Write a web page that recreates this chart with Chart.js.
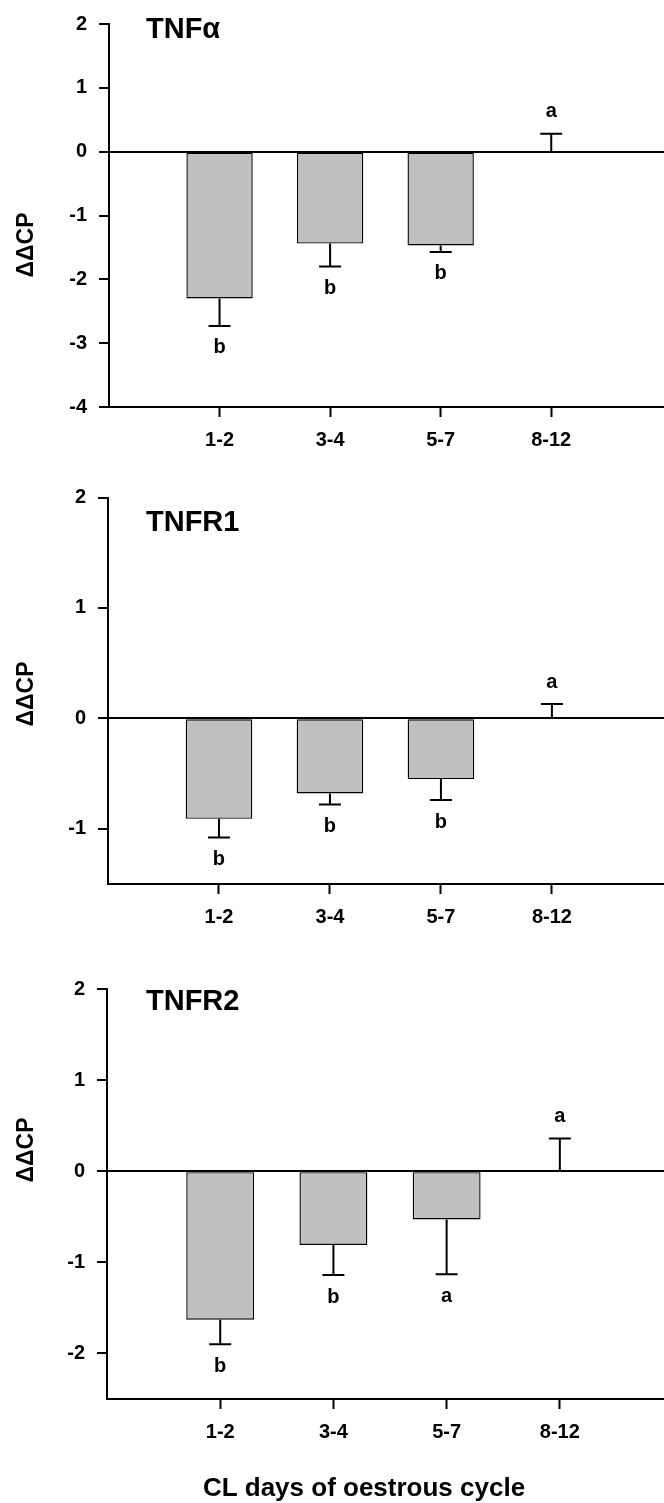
<!DOCTYPE html>
<html>
<head>
<meta charset="utf-8">
<script src="https://cdn.jsdelivr.net/npm/chart.js@4.4.1/dist/chart.umd.min.js"></script>
<style>
  body { margin: 0; background: #fff; width: 664px; height: 1503px; overflow: hidden; position: relative; }
  canvas { position: absolute; left: 0; }
</style>
</head>
<body>
<canvas id="c1" width="664" height="470" style="top:0px"></canvas>
<canvas id="c2" width="664" height="480" style="top:470px"></canvas>
<canvas id="c3" width="664" height="553" style="top:950px"></canvas>
<script>
// CL days of oestrous cycle
const days = ['1-2', '3-4', '5-7', '8-12'];

// TNFa
const tnfaMean = [-2.30, -1.44, -1.47, 0];
const tnfaSem = [0.43, 0.36, 0.10, 0.28];
const tnfaLetters = ['b', 'b', 'b', 'a'];
const tnfaTicks = [-4, -3, -2, -1, 0, 1, 2];

// TNFR1
const tnfr1Mean = [-0.91, -0.68, -0.55, 0];
const tnfr1Sem = [0.17, 0.10, 0.19, 0.13];
const tnfr1Letters = ['b', 'b', 'b', 'a'];
const tnfr1Ticks = [-1, 0, 1, 2];

// TNFR2
const tnfr2Mean = [-1.63, -0.81, -0.53, 0];
const tnfr2Sem = [0.27, 0.33, 0.60, 0.36];
const tnfr2Letters = ['b', 'b', 'a', 'a'];
const tnfr2Ticks = [-2, -1, 0, 1, 2];

Chart.defaults.font.family = '"Liberation Sans", Arial, sans-serif';
Chart.defaults.color = '#000';

// error bars, significance letters, panel name, axis titles
const marks = {
  id: 'marks',
  afterDatasetsDraw(chart, args, o) {
    const ctx = chart.ctx, x = chart.scales.x, y = chart.scales.y;
    ctx.save();
    ctx.strokeStyle = '#000';
    ctx.fillStyle = '#000';
    ctx.lineWidth = 2;
    ctx.textAlign = 'center';
    ctx.textBaseline = 'middle';
    ctx.font = 'bold 20px "Liberation Sans"';
    o.mean.forEach(function(m, i) {
      let px = x.getPixelForValue(i);
      let dir = m < 0 ? -1 : 1;
      let y0 = y.getPixelForValue(m), y1 = y.getPixelForValue(m + dir * o.sem[i]);
      ctx.beginPath();
      ctx.moveTo(px, y0); ctx.lineTo(px, y1);
      ctx.moveTo(px - 11, y1); ctx.lineTo(px + 11, y1);
      ctx.stroke();
      ctx.fillText(o.letters[i], px, y1 - dir * 22);
    });
    // panel name
    ctx.textAlign = 'left';
    ctx.font = 'bold 29px "Liberation Sans"';
    ctx.fillText(o.name, o.nameX, o.nameY);
    // y title
    ctx.save();
    ctx.translate(o.yTitleX, o.yTitleY);
    ctx.rotate(-Math.PI / 2);
    ctx.textAlign = 'center';
    ctx.font = 'bold 23px "Liberation Sans"';
    ctx.fillText('ΔΔCP', 0, 0);
    ctx.restore();
    if (o.xTitle) {
      ctx.textAlign = 'center';
      ctx.font = 'bold 26px "Liberation Sans"';
      ctx.fillText(o.xTitle, o.xTitleX, o.xTitleY);
    }
    ctx.restore();
  }
};

let makePanel = function(id, mean, sem, letters, yTicks, yMin, xMax, top, xHeight, name, nameY, yTitleY, xTitle) {
  return new Chart(document.getElementById(id), {
    type: 'bar',
    data: {
      datasets: [{
        data: mean.map(function(v, i) { return {x: i, y: v}; }),
        backgroundColor: '#c0c0c0',
        borderColor: '#000',
        borderWidth: 1.4,
        borderSkipped: false,
        barPercentage: 0.6,
        categoryPercentage: 1
      }]
    },
    options: {
      responsive: false,
      animation: false,
      events: [],
      layout: { padding: { top: top, left: 0, right: 0, bottom: 0 } },
      scales: {
        x: {
          type: 'linear',
          min: -1,
          max: xMax,
          offset: false,
          afterBuildTicks: function(s) { s.ticks = days.map(function(d, i) { return {value: i}; }); },
          afterFit: function(s) { s.height = xHeight; },
          ticks: {
            autoSkip: false, maxRotation: 0, padding: 11,
            font: { size: 20, weight: 'bold' },
            callback: function(v) { return days[v]; }
          },
          grid: { display: true, offset: false, drawOnChartArea: false, color: '#000', tickColor: '#000', tickLength: 10, tickWidth: 2 },
          border: { display: true, color: '#000', width: 2 }
        },
        y: {
          min: yMin,
          max: 2,
          afterBuildTicks: function(s) { s.ticks = yTicks.map(function(v) { return {value: v}; }); },
          afterFit: function(s) { s.width = 109 - (id == 'c3' ? 2 : (id == 'c2' ? 1 : 0)); },
          ticks: {
            padding: 12,
            font: { size: 20, weight: 'bold' },
            callback: function(v) { return String(v); }
          },
          grid: {
            display: true,
            drawOnChartArea: true,
            color: function(c) { return c.tick && c.tick.value === 0 ? '#000' : 'rgba(0,0,0,0)'; },
            lineWidth: 2,
            tickColor: '#000', tickLength: 10, tickWidth: 2
          },
          border: { display: true, color: '#000', width: 2 }
        }
      },
      plugins: {
        legend: { display: false },
        tooltip: { enabled: false },
        marks: {
          mean: mean, sem: sem, letters: letters,
          name: name, nameX: 146, nameY: nameY,
          yTitleX: 27, yTitleY: yTitleY,
          xTitle: xTitle, xTitleX: 364, xTitleY: 539
        }
      }
    },
    plugins: [marks]
  });
}

makePanel('c1', tnfaMean, tnfaSem, tnfaLetters, tnfaTicks, -4, 4.02, 22, 63, 'TNFα', 30, 245, null);
makePanel('c2', tnfr1Mean, tnfr1Sem, tnfr1Letters, tnfr1Ticks, -1.5, 4.01, 27.5, 66, 'TNFR1', 53, 224, null);
makePanel('c3', tnfr2Mean, tnfr2Sem, tnfr2Letters, tnfr2Ticks, -2.5, 3.92, 39, 104, 'TNFR2', 52, 200, 'CL days of oestrous cycle');
</script>
</body>
</html>
